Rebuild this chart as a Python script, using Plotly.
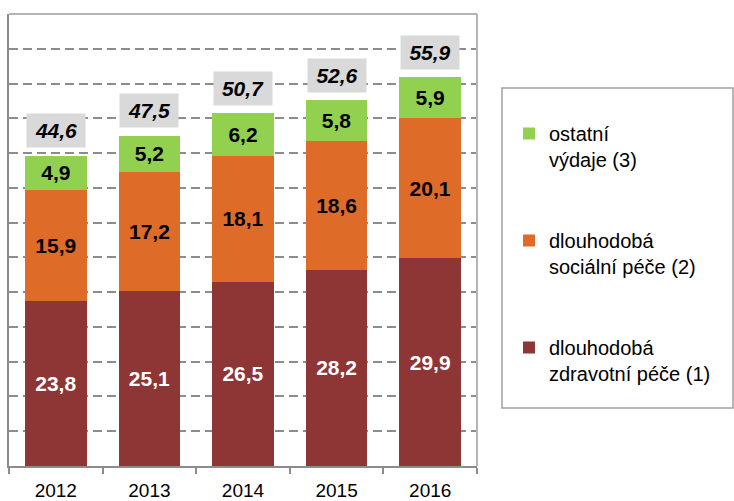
import plotly.graph_objects as go

years = ["2012", "2013", "2014", "2015", "2016"]
zdravotni = [23.8, 25.1, 26.5, 28.2, 29.9]
socialni = [15.9, 17.2, 18.1, 18.6, 20.1]
ostatni = [4.9, 5.2, 6.2, 5.8, 5.9]
totals = [44.6, 47.5, 50.7, 52.6, 55.9]

names = ["dlouhodobá<br>zdravotní péče (1)", "dlouhodobá<br>sociální péče (2)", "ostatní<br>výdaje (3)"]
colors = ["#8E3535", "#DE6C28", "#92D050"]
text_colors = ["white", "black", "black"]

FONT = "Liberation Sans, Arial, sans-serif"

def fmt(v):
    return f"{v:.1f}".replace(".", ",")

fig = go.Figure()
for i, (vals, name) in enumerate(zip([zdravotni, socialni, ostatni], names)):
    fig.add_trace(go.Bar(
        x=years, y=vals, name=name, legendgroup=f"g{i}", legendrank=3 - i,
        marker=dict(color=colors[i], line=dict(width=0)),
        text=[fmt(v) for v in vals], textposition="inside",
        insidetextanchor="middle", textangle=0, constraintext="none",
        textfont=dict(family=FONT, size=21, color=text_colors[i], weight="bold"),
        hoverinfo="skip",
    ))

for idx, t in enumerate(totals):
    fig.add_annotation(
        x=idx, y=t, xref="x", yref="y", text=fmt(t), showarrow=False,
        yshift=25, yanchor="middle", bgcolor="#D9D9D9", width=58, height=33, borderpad=0,
        font=dict(family=FONT, size=21, color="black", weight="bold", style="italic"),
    )

W, H = 734, 501
L, R, T, B = 9, 477, 14, 466
pw, ph = R - L, B - T

def px(x):
    return (x - L) / pw

def py(y):
    return (B - y) / ph

# top & right frame lines
fig.add_shape(type="line", xref="paper", yref="paper", x0=0, x1=1, y0=1, y1=1,
              line=dict(color="#B4B4B4", width=2), layer="above")
fig.add_shape(type="line", xref="paper", yref="paper", x0=1, x1=1, y0=0, y1=1,
              line=dict(color="#B4B4B4", width=2), layer="above")
# legend box
fig.add_shape(type="rect", xref="paper", yref="paper", x0=px(502), x1=px(733), y0=py(408), y1=py(88),
              line=dict(color="#A0A0A0", width=1.5), layer="above")

fig.update_layout(
    width=W, height=H,
    margin=dict(l=L, r=W - R, t=T, b=H - B, pad=0, autoexpand=False),
    paper_bgcolor="white", plot_bgcolor="white",
    barmode="stack", bargap=0.34,
    font=dict(family=FONT, size=18, color="black"),
    showlegend=True,
    legend=dict(
        x=px(509), y=py(114), xanchor="left", yanchor="top",
        traceorder="grouped", tracegroupgap=52, valign="top",
        font=dict(family=FONT, size=20, color="black"),
        bgcolor="rgba(0,0,0,0)", borderwidth=0,
    ),
    xaxis=dict(
        type="category", showgrid=False, showline=True, linecolor="#8C8C8C", linewidth=2,
        ticks="outside", tickson="boundaries", ticklen=6, tickcolor="#8C8C8C", tickwidth=2,
        tickfont=dict(family=FONT, size=19, color="black"), zeroline=False,
        ticklabelstandoff=6, automargin=False,
    ),
    yaxis=dict(
        range=[0, 65], dtick=5, showticklabels=False, showgrid=True,
        gridcolor="#8C8C8C", gridwidth=1.5, griddash="9px,5px",
        showline=True, linecolor="#8C8C8C", linewidth=2, zeroline=False, ticks="",
        automargin=False,
    ),
)

fig.write_html("out.html", config={"displayModeBar": False},
               post_script="document.body.style.margin='0';")
